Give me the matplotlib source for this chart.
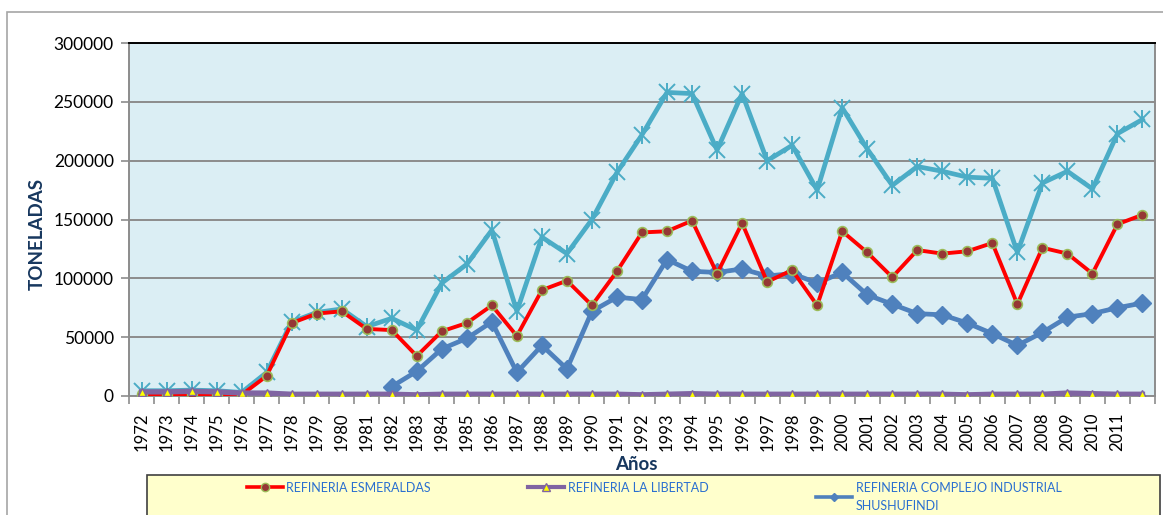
import matplotlib
matplotlib.use("Agg")
import matplotlib.pyplot as plt
from matplotlib.lines import Line2D
from matplotlib.patches import Rectangle
import numpy as np

plt.rcParams['font.family'] = ['Lato', 'DejaVu Sans']

# datos (toneladas por año)
years = [str(y) for y in range(1972, 2012)] + [""]

esmeraldas = [1500, 1500, 1500, 1500, 1000, 17000, 62000, 70000, 72000, 57000,
              56000, 34000, 55000, 62000, 77000, 51000, 90000, 98000, 77000, 106000,
              139000, 140000, 149000, 104000, 147000, 97000, 107000, 77000, 140000, 122000,
              101000, 124000, 121000, 123000, 130000, 78000, 126000, 121000, 104000, 146000,
              154000]

libertad = [3500, 3500, 4000, 3500, 2500, 2500, 1500, 1500, 1500, 1500,
            1500, 1000, 1500, 1500, 1500, 1500, 1500, 1500, 1500, 1500,
            1000, 1500, 2000, 1500, 1500, 1500, 1500, 1500, 1500, 1500,
            1500, 1500, 1500, 1000, 1500, 1500, 1500, 2500, 2000, 1500,
            1500]

shushufindi = [np.nan] * 10 + [8000, 21000, 40000, 49000, 63000, 20000, 43000, 23000, 72000, 84000,
                               82000, 116000, 106000, 105000, 108000, 102000, 104000, 96000, 105000, 86000,
                               78000, 70000, 69000, 62000, 53000, 43000, 54000, 67000, 70000, 75000,
                               79000]

total = [4500, 4500, 5000, 4500, 3000, 20000, 63000, 71000, 74000, 59000,
         66000, 56000, 96000, 112000, 141000, 72000, 135000, 121000, 150000, 190000,
         222000, 258000, 257000, 209000, 257000, 200000, 213000, 175000, 245000, 210000,
         179000, 195000, 191000, 186000, 185000, 122000, 181000, 191000, 176000, 223000,
         235000]

W, H = 1163, 515
fig = plt.figure(figsize=(W / 100, H / 100), dpi=100)

# marco exterior
fig.patches.append(Rectangle((7 / W, -0.01), 1.0, 1 - 12 / H + 0.01, transform=fig.transFigure,
                             fill=False, edgecolor='#A6A6A6', linewidth=1.2))

ax = fig.add_axes([129 / W, 1 - 396 / H, (1155 - 129) / W, (396 - 43) / H])
ax.set_facecolor('#DBEEF4')

x = np.arange(len(years))

ax.plot(x, esmeraldas, color='#FF0000', lw=2.8, marker='o', ms=7,
        mfc='#953735', mec='#9BBB59', mew=1.2, zorder=4)
ax.plot(x, libertad, color='#8064A2', lw=3.8, marker='^', ms=6,
        mfc='#FFFF00', mec='#8064A2', mew=1.0, zorder=5)
ax.plot(x, shushufindi, color='#4F81BD', lw=3.4, marker='D', ms=9,
        mfc='#4F81BD', mec='#4F81BD', zorder=3)
ax.plot(x, total, color='#4BACC6', lw=3.4, marker='x', ms=11, mew=1.4, zorder=2)
ax.plot(x, total, ls='none', color='#4BACC6', marker='|', ms=13, mew=1.4, zorder=2)

ax.set_xlim(-0.5, len(years) - 0.5)
ax.set_ylim(0, 300000)
ax.set_yticks(range(0, 300001, 50000))
ax.yaxis.grid(True, color='#8C8C8C', lw=1.4)
ax.set_axisbelow(True)

ax.set_xticks(x)
ax.set_xticklabels(years, rotation=90, fontsize=12)
ax.set_xticks(np.arange(-0.5, len(years)), minor=True)
ax.tick_params(axis='x', which='major', length=0, pad=12)
ax.tick_params(axis='x', which='minor', length=6, color='#8C8C8C', width=1.2)
ax.tick_params(axis='y', length=6, color='#8C8C8C', width=1.2, labelsize=12.5, pad=5)

for s in ('left', 'bottom', 'right'):
    ax.spines[s].set_color('#8C8C8C')
    ax.spines[s].set_linewidth(1.4)
ax.spines['top'].set_color('#000000')
ax.spines['top'].set_linewidth(1.4)

fig.text(37 / W, 1 - 234 / H, 'TONELADAS', rotation=90, ha='center', va='center',
         fontsize=13.5, fontweight='bold', color='#17375E')
fig.text(636 / W, 1 - 465 / H, 'Años', ha='center', va='center',
         fontsize=13.5, fontweight='bold', color='#17375E')

# leyenda
fig.patches.append(Rectangle((147 / W, -0.02), (1160 - 147) / W, 1 - 475 / H + 0.02,
                             transform=fig.transFigure, facecolor='#FFFFCC',
                             edgecolor='#404040', linewidth=1.2))

entries = [
    (Line2D([], [], color='#FF0000', lw=2.6, marker='o', ms=6, mfc='#953735', mec='#9BBB59'),
     'REFINERIA ESMERALDAS', 244),
    (Line2D([], [], color='#8064A2', lw=3.0, marker='^', ms=6, mfc='#FFFF00', mec='#8064A2'),
     'REFINERIA LA LIBERTAD', 525),
    (Line2D([], [], color='#4F81BD', lw=2.6, marker='D', ms=4, mfc='#4F81BD', mec='#4F81BD'),
     'REFINERIA COMPLEJO INDUSTRIAL\nSHUSHUFINDI', 813),
]
for handle, label, xpx in entries:
    leg = fig.legend([handle], [label], loc='upper left',
                     bbox_to_anchor=(xpx / W, 1 - 479 / H), frameon=False,
                     fontsize=9, handlelength=2.9, handletextpad=0.3,
                     borderpad=0.2, borderaxespad=0)
    for t in leg.get_texts():
        t.set_color('#2A6FD0')
        t.set_linespacing(1.6)

fig.savefig('out.png', dpi=100)
